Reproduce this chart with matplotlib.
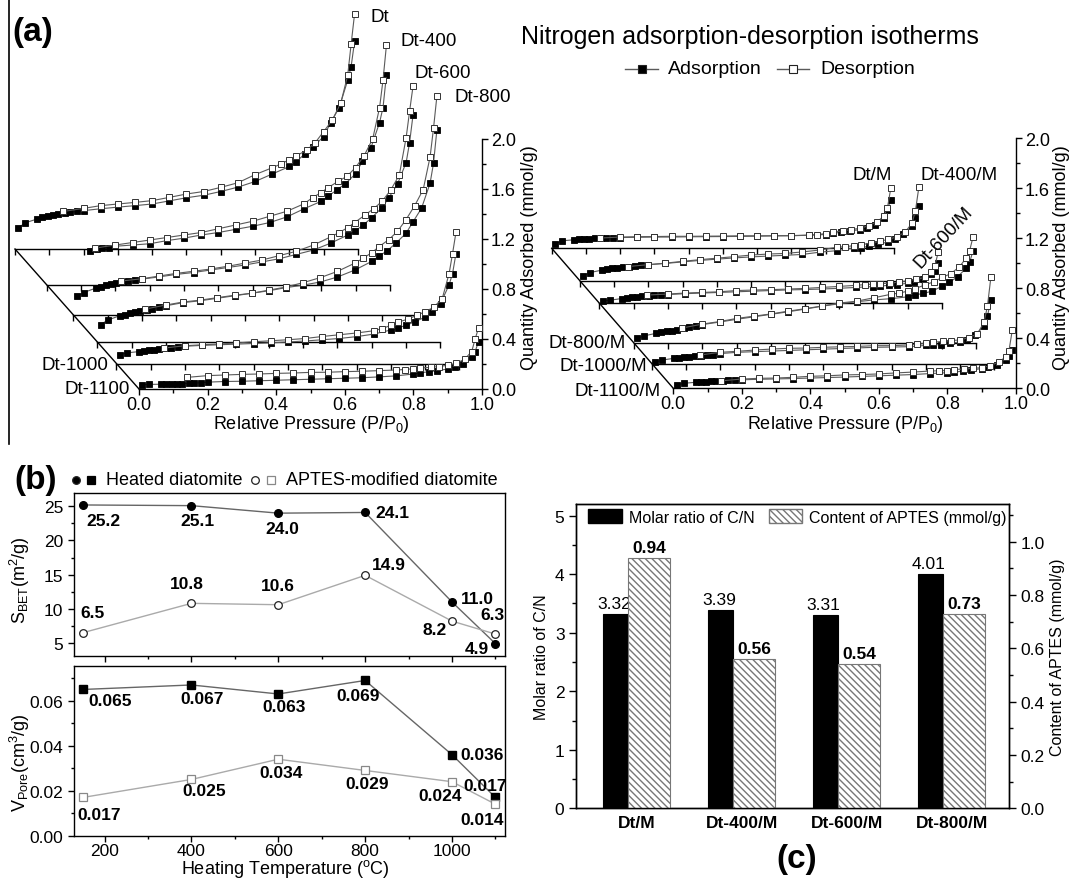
import numpy as np
import matplotlib
matplotlib.use("Agg")
import matplotlib.pyplot as plt
from matplotlib.ticker import FixedLocator, MultipleLocator, FormatStrFormatter, AutoMinorLocator
from matplotlib.lines import Line2D
from matplotlib.patches import Patch

plt.rcParams['font.family'] = ['Liberation Sans', 'DejaVu Sans']
plt.rcParams['mathtext.fontset'] = 'custom'
plt.rcParams['mathtext.rm'] = 'Liberation Sans'
plt.rcParams['mathtext.it'] = 'Liberation Sans:italic'
plt.rcParams['mathtext.bf'] = 'Liberation Sans:bold'
plt.rcParams['axes.linewidth'] = 1.0

NaN = np.nan
# ---------------- data: (a) isotherms ----------------
P_ADS = [0.01, 0.03, 0.065, 0.08, 0.095, 0.11, 0.125, 0.145, 0.16, 0.18, 0.20, 0.25, 0.30, 0.35,
         0.40, 0.45, 0.50, 0.55, 0.60, 0.65, 0.70, 0.75, 0.80, 0.82, 0.845, 0.87, 0.90, 0.92,
         0.945, 0.97, 0.98, 0.99]
P_DES = [0.99, 0.98, 0.97, 0.95, 0.925, 0.90, 0.875, 0.85, 0.82, 0.80, 0.775, 0.75, 0.70, 0.65,
         0.60, 0.55, 0.50, 0.45, 0.40, 0.35, 0.30, 0.25, 0.20, 0.14]

SAMPLES_L = ['Dt', 'Dt-400', 'Dt-600', 'Dt-800', 'Dt-1000', 'Dt-1100']
ADS_L = [
    [0.17, 0.21, 0.24, 0.253, 0.265, 0.275, 0.28, 0.288, 0.293, 0.30, 0.307, 0.322, 0.335, 0.347, 0.36, 0.385,
     0.41, 0.43, 0.46, 0.495, 0.54, 0.60, 0.66, 0.70, 0.76, 0.82, 0.90, 1.01, 1.13, 1.35, 1.46, 1.66],
    [NaN, NaN, NaN, NaN, NaN, NaN, 0.274, 0.288, 0.296, 0.30, 0.31, 0.32, 0.33, 0.355, 0.375, 0.40,
     0.42, 0.445, 0.47, 0.50, 0.545, 0.61, 0.67, 0.71, 0.76, 0.81, 0.89, 0.99, 1.10, 1.30, 1.42, 1.68],
    [0.15, 0.18, 0.215, 0.225, 0.238, 0.248, 0.256, 0.265, 0.27, 0.28, 0.287, 0.305, 0.325, 0.34, 0.36, 0.38,
     0.40, 0.425, 0.45, 0.485, 0.52, 0.575, 0.64, 0.67, 0.72, 0.78, 0.86, 0.94, 1.05, 1.22, 1.38, 1.60],
    [0.14, 0.175, 0.21, 0.22, 0.23, 0.24, 0.25, 0.26, 0.268, 0.28, 0.29, 0.315, 0.33, 0.35, 0.37, 0.39,
     0.41, 0.435, 0.455, 0.48, 0.52, 0.575, 0.645, 0.685, 0.73, 0.79, 0.87, 0.96, 1.07, 1.27, 1.43, 1.70],
    [0.07, 0.085, 0.095, 0.10, 0.105, 0.11, 0.116, 0.122, 0.128, 0.132, 0.138, 0.145, 0.15, 0.155, 0.16, 0.165,
     0.172, 0.18, 0.19, 0.20, 0.215, 0.235, 0.268, 0.285, 0.305, 0.335, 0.37, 0.41, 0.48, 0.63, 0.72, 0.88],
    [0.035, 0.037, 0.038, 0.04, 0.04, 0.042, 0.043, 0.045, 0.047, 0.05, 0.055, 0.06, 0.062, 0.066, 0.07, 0.074,
     0.078, 0.082, 0.086, 0.09, 0.097, 0.105, 0.12, 0.13, 0.138, 0.147, 0.16, 0.175, 0.20, 0.26, 0.30, 0.38],
]
DES_L = [
    [1.88, 1.64, 1.39, 1.17, 1.03, 0.94, 0.85, 0.79, 0.745, 0.715, 0.68, 0.65, 0.595, 0.53, 0.493, 0.46,
     0.44, 0.413, 0.387, 0.373, 0.36, 0.347, 0.325, 0.30],
    [1.92, 1.64, 1.42, 1.17, 1.035, 0.94, 0.87, 0.83, 0.78, 0.74, 0.70, 0.65, 0.59, 0.55, 0.51, 0.48,
     0.45, 0.42, 0.40, 0.38, 0.36, 0.34, 0.32, 0.295],
    [1.83, 1.63, 1.42, 1.12, 1.00, 0.91, 0.85, 0.80, 0.74, 0.70, 0.66, 0.625, 0.56, 0.51, 0.475, 0.44,
     0.415, 0.39, 0.368, 0.35, 0.333, 0.312, 0.29, 0.272],
    [1.97, 1.71, 1.48, 1.22, 1.09, 0.98, 0.885, 0.82, 0.76, 0.715, 0.67, 0.63, 0.565, 0.515, 0.475, 0.44,
     0.415, 0.39, 0.374, 0.355, 0.335, 0.32, 0.296, 0.264],
    [1.05, 0.88, 0.72, 0.52, 0.45, 0.414, 0.385, 0.355, 0.33, 0.305, 0.28, 0.262, 0.244, 0.23, 0.216, 0.20,
     0.19, 0.182, 0.174, 0.164, 0.156, 0.15, 0.142, 0.124],
    [0.49, 0.40, 0.30, 0.24, 0.205, 0.19, 0.18, 0.173, 0.168, 0.162, 0.156, 0.152, 0.147, 0.142, 0.139, 0.134,
     0.133, 0.128, 0.125, 0.12, 0.117, 0.112, 0.107, 0.093],
]

SAMPLES_R = ['Dt/M', 'Dt-400/M', 'Dt-600/M', 'Dt-800/M', 'Dt-1000/M', 'Dt-1100/M']
ADS_R = [
    [0.034, 0.06, 0.068, 0.072, 0.075, 0.078, 0.08, 0.08, 0.082, 0.084, 0.086, 0.088, 0.09, 0.09, 0.092, 0.093,
     0.094, 0.095, 0.097, 0.10, 0.10, 0.105, 0.11, 0.12, 0.128, 0.138, 0.15, 0.165, 0.19, 0.24, 0.31, 0.39],
    [0.04, 0.065, 0.085, 0.092, 0.098, 0.102, 0.107, 0.113, 0.118, 0.124, 0.128, 0.138, 0.15, 0.162, 0.172, 0.182,
     0.19, 0.197, 0.203, 0.21, 0.228, 0.24, 0.26, 0.265, 0.275, 0.29, 0.31, 0.33, 0.37, 0.44, 0.50, 0.60],
    [0.018, 0.022, 0.036, 0.042, 0.048, 0.052, 0.055, 0.058, 0.062, 0.065, 0.068, 0.075, 0.08, 0.085, 0.09, 0.095,
     0.10, 0.105, 0.108, 0.112, 0.118, 0.125, 0.132, 0.136, 0.142, 0.148, 0.158, 0.17, 0.19, 0.23, 0.255, 0.32],
    [0.038, 0.058, 0.078, 0.088, 0.095, 0.10, 0.107, 0.118, 0.125, 0.135, 0.148, 0.168, 0.19, 0.21, 0.23, 0.25,
     0.272, 0.295, 0.315, 0.33, 0.345, 0.355, 0.37, 0.385, 0.397, 0.415, 0.455, 0.485, 0.53, 0.60, 0.645, 0.74],
    [0.01, 0.028, 0.042, 0.046, 0.05, 0.056, 0.06, 0.064, 0.068, 0.07, 0.08, 0.09, 0.095, 0.10, 0.105, 0.11,
     0.115, 0.12, 0.125, 0.13, 0.132, 0.135, 0.145, 0.148, 0.152, 0.163, 0.173, 0.19, 0.23, 0.30, 0.38, 0.51],
    [0.026, 0.04, 0.048, 0.05, 0.052, 0.056, 0.058, 0.06, 0.063, 0.066, 0.068, 0.072, 0.075, 0.078, 0.082, 0.086,
     0.09, 0.095, 0.10, 0.105, 0.11, 0.118, 0.125, 0.13, 0.137, 0.145, 0.158, 0.17, 0.19, 0.23, 0.26, 0.31],
]
DES_R = [
    [0.48, 0.32, 0.26, 0.21, 0.18, 0.16, 0.15, 0.14, 0.13, 0.118, 0.11, 0.105, 0.102, 0.10, 0.10, 0.10,
     0.098, 0.097, 0.096, 0.096, 0.094, 0.093, 0.09, 0.082],
    [0.75, 0.56, 0.46, 0.39, 0.35, 0.33, 0.315, 0.30, 0.288, 0.28, 0.272, 0.267, 0.245, 0.23, 0.218, 0.213,
     0.205, 0.192, 0.18, 0.168, 0.155, 0.14, 0.128, 0.113],
    [0.41, 0.30, 0.25, 0.205, 0.19, 0.178, 0.168, 0.16, 0.155, 0.152, 0.147, 0.142, 0.133, 0.125, 0.117, 0.112,
     0.107, 0.104, 0.10, 0.09, 0.085, 0.08, 0.072, 0.064],
    [0.85, 0.74, 0.68, 0.61, 0.555, 0.525, 0.49, 0.465, 0.435, 0.416, 0.40, 0.39, 0.362, 0.335, 0.32, 0.297,
     0.275, 0.255, 0.233, 0.215, 0.197, 0.172, 0.152, 0.12],
    [0.69, 0.46, 0.33, 0.235, 0.206, 0.19, 0.183, 0.178, 0.17, 0.162, 0.155, 0.149, 0.143, 0.143, 0.137, 0.134,
     0.13, 0.124, 0.122, 0.116, 0.108, 0.098, 0.09, 0.068],
    [0.47, 0.30, 0.25, 0.21, 0.18, 0.165, 0.16, 0.155, 0.15, 0.142, 0.14, 0.138, 0.13, 0.123, 0.115, 0.11,
     0.107, 0.10, 0.096, 0.088, 0.082, 0.08, 0.074, 0.06],
]

# ---------------- data: (b) ----------------
TEMPS = [150, 400, 600, 800, 1000, 1100]
SBET_HEATED = [25.2, 25.1, 24.0, 24.1, 11.0, 4.9]
SBET_APTES = [6.5, 10.8, 10.6, 14.9, 8.2, 6.3]
VPORE_HEATED = [0.065, 0.067, 0.063, 0.069, 0.036, 0.017]
VPORE_APTES = [0.017, 0.025, 0.034, 0.029, 0.024, 0.014]

# ---------------- data: (c) ----------------
CAT_C = ['Dt/M', 'Dt-400/M', 'Dt-600/M', 'Dt-800/M']
CN_RATIO = [3.32, 3.39, 3.31, 4.01]
APTES_CONTENT = [0.94, 0.56, 0.54, 0.73]

# ---------------- layout helpers ----------------
W, H = 1070, 879
fig = plt.figure(figsize=(W / 100, H / 100), dpi=100)


def fax(x0, y0, x1, y1):
    return fig.add_axes([x0 / W, 1 - y1 / H, (x1 - x0) / W, (y1 - y0) / H])


def ftext(x, y, s, **kw):
    return fig.text(x / W, 1 - y / H, s, **kw)


# ---------------- (a) waterfall isotherms ----------------
PLANE_Y_L = [1.12, 0.832, 0.592, 0.376, 0.204, 0.0]
PLANE_Y_R = [1.12, 0.861, 0.682, 0.362, 0.198, 0.0]
SLOPE_L = 0.3228
SLOPE_R = 0.317
LINE_C = '#5a5a5a'


def iso_panel(x0, base, sx, sy, planes, slope, ads, des):
    xmin, ymax = -0.37, 3.1
    ax = fax(x0 + xmin * sx, base - ymax * sy, x0 + sx, base)
    ax.set_xlim(xmin, 1.0)
    ax.set_ylim(0, ymax)
    ax.patch.set_alpha(0)
    ax.spines['top'].set_visible(False)
    ax.spines['left'].set_visible(False)
    ax.spines['bottom'].set_bounds(0, 1)
    ax.spines['right'].set_bounds(0, 2)
    ax.set_xticks(np.arange(0, 1.01, 0.2))
    ax.xaxis.set_minor_locator(FixedLocator([0.1, 0.3, 0.5, 0.7, 0.9]))
    ax.xaxis.set_major_formatter(FormatStrFormatter('%.1f'))
    ax.yaxis.tick_right()
    ax.set_yticks(np.arange(0, 2.01, 0.4))
    ax.yaxis.set_minor_locator(FixedLocator([0.2, 0.6, 1.0, 1.4, 1.8]))
    ax.yaxis.set_major_formatter(FormatStrFormatter('%.1f'))
    ax.tick_params(which='both', direction='out', width=1, labelsize=13, colors='k')
    ax.tick_params(which='major', length=4.5)
    ax.tick_params(which='minor', length=3)
    ax.tick_params(axis='x', pad=0.5)
    ax.tick_params(axis='y', pad=2)
    tick_pos = np.arange(0, 1.001, 0.1)
    back = planes[0]
    ax.plot([0, -slope * back], [0, back], color='k', lw=1, clip_on=False)
    for oy in planes[:-1]:
        ox = -slope * oy
        ax.plot([ox, ox + 1], [oy, oy], color='k', lw=1, clip_on=False)
        ax.plot(tick_pos + ox, np.full_like(tick_pos, oy), ls='none', marker=3, ms=4,
                mew=1, color='k', clip_on=False)
    for oy, qa, qd in zip(planes, ads, des):
        ox = -slope * oy
        ax.plot(np.array(P_ADS) + ox, np.array(qa) + oy, '-', color=LINE_C, lw=0.8,
                marker='s', ms=4.2, mfc='k', mec='k', mew=0.6, clip_on=False, zorder=3)
        ax.plot(np.array(P_DES) + ox, np.array(qd) + oy, '-', color=LINE_C, lw=0.8,
                marker='s', ms=4.2, mfc='white', mec='#333333', mew=0.7, clip_on=False, zorder=4)
    return ax


axL = iso_panel(139, 390, 343, 125, PLANE_Y_L, SLOPE_L, ADS_L, DES_L)
axR = iso_panel(673.3, 389.3, 342.5, 125, PLANE_Y_R, SLOPE_R, ADS_R, DES_R)

fs_lab = 13.5
for name, (x, y, ha, rot) in zip(SAMPLES_L, [(371, 18, 'left', 0), (400, 42, 'left', 0),
                                             (415, 73, 'left', 0), (455, 97, 'left', 0),
                                             (108, 366, 'right', 0), (130, 390, 'right', 0)]):
    ftext(x, y, name, ha=ha, va='center', fontsize=fs_lab, rotation=rot)
for name, (x, y, ha, rot) in zip(SAMPLES_R, [(853, 175, 'left', 0), (920, 175, 'left', 0),
                                             (944, 238, 'center', 47), (626, 344, 'right', 0),
                                             (647, 367, 'right', 0), (661, 392, 'right', 0)]):
    ftext(x, y, name, ha=ha, va='center', fontsize=fs_lab, rotation=rot)

ftext(311, 425, r'Relative Pressure (P/P$_\mathrm{0}$)', ha='center', va='center', fontsize=13)
ftext(845, 425, r'Relative Pressure (P/P$_\mathrm{0}$)', ha='center', va='center', fontsize=13)
ftext(530, 258, 'Quantity Adsorbed (mmol/g)', ha='center', va='center', fontsize=13, rotation=90)
ftext(1061, 258, 'Quantity Adsorbed (mmol/g)', ha='center', va='center', fontsize=13, rotation=90)

ftext(750, 37, 'Nitrogen adsorption-desorption isotherms', ha='center', va='center', fontsize=18)
# legend for (a)
for (xa, xb, face, label, xt) in [(625, 658, 'k', 'Adsorption', 668), (777, 809, 'white', 'Desorption', 820)]:
    fig.add_artist(Line2D([xa / W, xb / W], [1 - 70 / H] * 2, color=LINE_C, lw=1,
                          transform=fig.transFigure))
    fig.add_artist(Line2D([(xa + xb) / 2 / W], [1 - 70 / H], marker='s', ms=6, mfc=face,
                          mec='#222222', mew=0.8, transform=fig.transFigure))
    ftext(xt, 70, label, ha='left', va='center', fontsize=14)

ftext(12, 33, '(a)', ha='left', va='center', fontsize=24, fontweight='bold')
fig.add_artist(Line2D([9 / W, 9 / W], [1.0, 1 - 445 / H], color='k', lw=1.2, transform=fig.transFigure))

# ---------------- (b) ----------------
axb1 = fax(73.7, 494, 505, 657.3)
axb2 = fax(73.7, 667.3, 505, 836.7)
for ax in (axb1, axb2):
    ax.set_xlim(129, 1122)
    ax.xaxis.set_major_locator(MultipleLocator(200))
    ax.xaxis.set_minor_locator(MultipleLocator(100))
    ax.tick_params(which='both', direction='out', width=1, labelsize=12.5, top=False, right=False)
    ax.tick_params(which='major', length=4)
    ax.tick_params(which='minor', length=2.5)
    ax.tick_params(axis='x', pad=1.5)
axb1.tick_params(axis='x', labelbottom=False)
axb1.set_ylim(3.05, 26.95)
axb1.yaxis.set_major_locator(MultipleLocator(5))
axb1.yaxis.set_minor_locator(AutoMinorLocator(2))
axb2.set_ylim(0, 0.0753)
axb2.yaxis.set_major_locator(MultipleLocator(0.02))
axb2.yaxis.set_minor_locator(MultipleLocator(0.01))
axb2.yaxis.set_major_formatter(FormatStrFormatter('%.2f'))

axb1.plot(TEMPS, SBET_HEATED, '-o', color='#666666', lw=1, ms=5.5, mfc='k', mec='k', zorder=3)
axb1.plot(TEMPS, SBET_APTES, '-o', color='#aaaaaa', lw=1, ms=5.5, mfc='white', mec='#222222',
          mew=0.9, zorder=3)
axb2.plot(TEMPS, VPORE_HEATED, '-s', color='#666666', lw=1, ms=5.5, mfc='k', mec='k', zorder=3)
axb2.plot(TEMPS, VPORE_APTES, '-s', color='#aaaaaa', lw=1, ms=5.5, mfc='white', mec='#888888',
          mew=0.9, zorder=3)

OFF_S_HEATED = [(20.6, 15.1), (5.8, 14.4), (4.4, 15.3), (27.4, 0.5), (25.7, -3), (-18.2, 4.7)]
OFF_S_APTES = [(9.6, -20.5), (-4.5, -20.2), (-0.7, -19.2), (24, -11), (-17.2, 8.7), (-3.4, -19.1)]
OFF_V_HEATED = [(27.4, 11.3), (11, 13.4), (6.2, 12.4), (-6.9, 14.7), (30.2, -0.7), (-10.3, -12.4)]
OFF_V_APTES = [(16.5, 16.7), (12.7, 11.3), (2.7, 13.3), (2.4, 13.1), (-12, 14.1), (-13.7, 15.1)]


def label_points(ax, xs, ys, offs, fmt):
    for x, y, (dx, dy) in zip(xs, ys, offs):
        ax.annotate(fmt % y, (x, y), xytext=(dx, -dy), textcoords='offset pixels',
                    ha='center', va='center', fontsize=12.5, fontweight='bold',
                    annotation_clip=False, zorder=5)


label_points(axb1, TEMPS, SBET_HEATED, OFF_S_HEATED, '%.1f')
label_points(axb1, TEMPS, SBET_APTES, OFF_S_APTES, '%.1f')
label_points(axb2, TEMPS, VPORE_HEATED, OFF_V_HEATED, '%.3f')
label_points(axb2, TEMPS, VPORE_APTES, OFF_V_APTES, '%.3f')

ftext(20, 580, r'S$_\mathrm{BET}$(m$^\mathrm{2}$/g)', ha='center', va='center', fontsize=13, rotation=90)
ftext(20, 763, r'V$_\mathrm{Pore}$(cm$^\mathrm{3}$/g)', ha='center', va='center', fontsize=13, rotation=90)
ftext(285, 869, r'Heating Temperature ($^\mathrm{o}$C)', ha='center', va='center', fontsize=13)

ftext(14, 481, '(b)', ha='left', va='center', fontsize=24, fontweight='bold')
for (x, m, face) in [(75.5, 'o', 'k'), (91, 's', 'k'), (254.5, 'o', 'white'), (271, 's', 'white')]:
    fig.add_artist(Line2D([x / W], [1 - 481 / H], marker=m, ms=5.5, mfc=face,
                          mec='#222222' if m == 'o' else ('k' if face == 'k' else '#888888'),
                          mew=0.9, transform=fig.transFigure))
ftext(106, 481, 'Heated diatomite', ha='left', va='center', fontsize=13)
ftext(286, 481, 'APTES-modified diatomite', ha='left', va='center', fontsize=13)

# ---------------- (c) ----------------
axc = fax(576.3, 505, 1008.5, 809.3)
axc2 = axc.twinx()
xc = np.arange(len(CAT_C))
axc.set_xlim(-0.577, 3.541)
axc.set_ylim(0, 5.2)
axc2.set_ylim(0, 1.141)
axc.bar(xc - 0.20, CN_RATIO, width=0.24, color='k', edgecolor='k', lw=0.8, zorder=2)
axc2.bar(xc + 0.12, APTES_CONTENT, width=0.40, facecolor='white', edgecolor='#777777', lw=0.8,
         hatch='\\' * 5, zorder=2)
for x, v in zip(xc, CN_RATIO):
    axc.annotate('%.2f' % v, (x - 0.20, v), xytext=(-2, 3), textcoords='offset pixels',
                 ha='center', va='bottom', fontsize=12.5)
for x, v in zip(xc, APTES_CONTENT):
    axc2.annotate('%.2f' % v, (x + 0.12, v), xytext=(0, 3), textcoords='offset pixels',
                  ha='center', va='bottom', fontsize=12.5, fontweight='bold')
axc.set_xticks(xc)
axc.set_xticklabels(CAT_C, fontweight='bold', fontsize=12.5)
axc.tick_params(axis='x', length=0, pad=5)
axc.yaxis.set_major_locator(MultipleLocator(1))
axc.yaxis.set_minor_locator(MultipleLocator(0.5))
axc2.yaxis.set_major_locator(MultipleLocator(0.2))
axc2.yaxis.set_minor_locator(MultipleLocator(0.1))
axc2.yaxis.set_major_formatter(FormatStrFormatter('%.1f'))
for ax in (axc, axc2):
    ax.tick_params(axis='y', which='both', direction='out', width=1, labelsize=12.5)
    ax.tick_params(axis='y', which='major', length=5)
    ax.tick_params(axis='y', which='minor', length=3)
axc.set_ylabel('Molar ratio of C/N', fontsize=11.5, labelpad=4)
axc2.set_ylabel('Content of APTES (mmol/g)', fontsize=11.5, labelpad=4)
handles = [Patch(facecolor='k', edgecolor='k'),
           Patch(facecolor='white', edgecolor='#777777', hatch='\\' * 5)]
axc2.legend(handles, ['Molar ratio of C/N', 'Content of APTES (mmol/g)'], ncol=2, frameon=False,
            fontsize=11.5, loc='upper left', bbox_to_anchor=(588 / W, 1 - 510 / H),
            bbox_transform=fig.transFigure, borderpad=0, borderaxespad=0, handlelength=2.1,
            handleheight=1.0, handletextpad=0.45, columnspacing=0.9)
ftext(797, 860, '(c)', ha='center', va='center', fontsize=24, fontweight='bold')

fig.savefig('out.png', dpi=100)
